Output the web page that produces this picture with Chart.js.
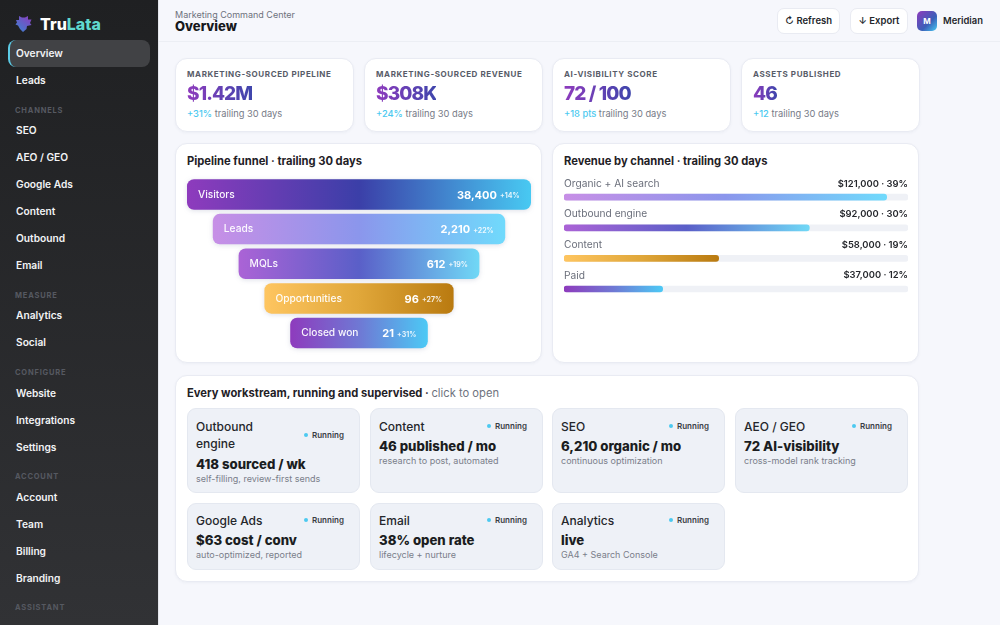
<!DOCTYPE html>
<html>
<head>
<meta charset="utf-8">
<title>Overview</title>
<script src="https://cdn.jsdelivr.net/npm/chart.js@4/dist/chart.umd.js"></script>
<style>
  * { box-sizing: border-box; margin: 0; padding: 0; }
  html, body { width: 1000px; height: 625px; overflow: hidden; background: #f6f7fc; font-family: Inter, sans-serif; color: #1d1f24; }
  .box { position: absolute; }
  .t { position: absolute; white-space: nowrap; line-height: 1; transform: translateY(calc(-50% + 0.2px)); }
  #sidebar { position: absolute; left: 0; top: 0; width: 159px; height: 625px; background: linear-gradient(#1f2022, #313235); border-right: 1px solid #e4e6ec; overflow: hidden; }
  #active { position: absolute; left: 8px; top: 40px; width: 142px; height: 27px; background: #414245; border-radius: 8px; border-left: 2px solid #5ccbe6; }
  .nav { color: #f2f3f5; font-size: 10.2px; font-weight: 600; left: 16px; }
  .sec { color: #565961; font-size: 7.5px; font-weight: 700; letter-spacing: .8px; left: 15px; }
  #head { position: absolute; left: 159px; top: 0; width: 841px; height: 42px; border-bottom: 1px solid #eceef4; }
  .btn { position: absolute; top: 8px; height: 26px; background: #fff; border: 1px solid #e9ebf2; border-radius: 7px; font-size: 9.5px; font-weight: 600; color: #24262b; line-height: 24px; text-align: center; }
  .card { position: absolute; background: #fff; border: 1px solid #e9ebf3; border-radius: 12px; box-shadow: 0 1px 3px rgba(60,70,110,.05); }
  .kl { font-size: 8px; font-weight: 700; letter-spacing: .6px; color: #585c68; }
  .kv { font-size: 19px; font-weight: 800; letter-spacing: -.9px; background: linear-gradient(90deg, #8e3bbd, #3f46ac); -webkit-background-clip: text; background-clip: text; color: transparent; padding: 2px 0; }
  .ks { font-size: 9.3px; color: #767a86; }
  .ks b { color: #4cc9f0; font-weight: 500; }
  .ct { font-size: 11.2px; font-weight: 700; color: #1f2126; }
  .tile { position: absolute; background: #eef1f7; border: 1px solid #e4e8f0; border-radius: 9px; }
  .tt { font-size: 12px; font-weight: 500; color: #24262b; }
  .tm { font-size: 13.2px; font-weight: 800; color: #1b1d21; }
  .tn { font-size: 9px; color: #7a7e8a; }
  .tr { font-size: 8px; font-weight: 600; color: #3a3d44; }
  .dot { position: absolute; width: 4px; height: 4px; border-radius: 50%; background: #4cc9f0; }
  canvas { position: absolute; }
</style>
</head>
<body>
<div id="sidebar"><div id="active"></div></div>
<div id="head"></div>
<div id="page"></div>
<canvas id="funnelChart" width="352" height="182" style="left:183px;top:173px"></canvas>
<canvas id="revenueChart" width="344" height="140" style="left:564px;top:170px"></canvas>

<script>
// Sidebar
const navLabels = ['Overview', 'Leads', 'SEO', 'AEO / GEO', 'Google Ads', 'Content', 'Outbound', 'Email', 'Analytics', 'Social', 'Website', 'Integrations', 'Settings', 'Account', 'Team', 'Billing', 'Branding'];
const navY      = [53, 80, 130, 157, 184, 211, 238, 265, 315, 342, 393, 420, 447, 497, 524, 551, 578];
const sectionLabels = ['CHANNELS', 'MEASURE', 'CONFIGURE', 'ACCOUNT', 'ASSISTANT'];
const sectionY      = [111, 296, 373, 477, 608];

// KPI cards
const kpiLabels = ['MARKETING-SOURCED PIPELINE', 'MARKETING-SOURCED REVENUE', 'AI-VISIBILITY SCORE', 'ASSETS PUBLISHED'];
const kpiValues = ['$1.42M', '$308K', '72 / 100', '46'];
const kpiDeltas = ['+31%', '+24%', '+18 pts', '+12'];
const kpiX      = [175, 364, 552, 741];

// Funnel : the bars are stepped, not proportional to the counts
const funnelStages = ['Visitors', 'Leads', 'MQLs', 'Opportunities', 'Closed won'];
const funnelRanges = [[0, 100], [7.5, 92.5], [15, 85], [22.5, 77.5], [30, 70]];
const funnelCounts = ['38,400', '2,210', '612', '96', '21'];
const funnelDeltas = ['+14%', '+22%', '+19%', '+27%', '+31%'];

// Revenue by channel
const revenueChannels = ['Organic + AI search', 'Outbound engine', 'Content', 'Paid'];
const revenueValues   = [121000, 92000, 58000, 37000];
const revenueShares   = ['39%', '30%', '19%', '12%'];
const revenueTrack    = [129000, 129000, 129000, 129000];

// Workstream tiles
const tileTitles = [['Outbound', 'engine'], ['Content'], ['SEO'], ['AEO / GEO'], ['Google Ads'], ['Email'], ['Analytics']];
const tileMetrics = ['418 sourced / wk', '46 published / mo', '6,210 organic / mo', '72 AI-visibility', '$63 cost / conv', '38% open rate', 'live'];
const tileNotes = ['self-filling, review-first sends', 'research to post, automated', 'continuous optimization', 'cross-model rank tracking', 'auto-optimized, reported', 'lifecycle + nurture', 'GA4 + Search Console'];
const tileX = [187, 370, 552, 735, 187, 370, 552];

// Gradient stops
const FULL  = ['#8e3bbd', '#3b3fa8', '#48c9f2'];
const LIGHT = ['#c78fe6', '#8b96ec', '#70dafc'];
const MID   = ['#ab63d6', '#5a5fc8', '#70d8f6'];
const GOLD  = ['#fec560', '#e0a73a', '#b97a10'];
const SHORT = ['#8e3bbd', '#6f78d4', '#4cc9f5'];

const html = (parent, markup) => parent.insertAdjacentHTML('beforeend', markup);
const side = document.getElementById('sidebar');
const page = document.getElementById('page');

navLabels.forEach((l, i) => html(side, `<div class="t nav" style="top:${navY[i]}px">${l}</div>`));
sectionLabels.forEach((l, i) => html(side, `<div class="t sec" style="top:${sectionY[i]}px">${l}</div>`));

// Logo + header
html(side, `<svg class="box" style="left:15px;top:15px" width="17" height="17" viewBox="0 0 17 17">
  <defs><linearGradient id="lg" x1="1" y1="0" x2="0.2" y2="1"><stop offset="0" stop-color="#8e3bbd"/><stop offset="1" stop-color="#3f7fd0"/></linearGradient></defs>
  <path d="M1 5 L4 5 L4 1 L7 2.5 L10 2.5 L13 1 L13 4.5 L16.5 4.5 L15 8 L16.5 10 L12 11 L11.5 14 L8 17 L5 14 L3 10.5 L0.5 9.5 L2 7.5 Z" fill="url(#lg)"/></svg>`);
html(side, `<div class="t" style="left:40px;top:24px;font-size:16px;font-weight:800;color:#fff">Tru<span style="color:#5fd9cf">Lata</span></div>`);

html(page, `<div class="t" style="left:175px;top:14px;font-size:9px;color:#6e727d">Marketing Command Center</div>
  <div class="t" style="left:175px;top:26px;font-size:13px;font-weight:800;color:#17181c">Overview</div>
  <div class="btn" style="left:777px;width:63px">↻ Refresh</div>
  <div class="btn" style="left:850px;width:58px">↓ Export</div>
  <div class="box" style="left:917px;top:11px;width:20px;height:20px;border-radius:5px;background:linear-gradient(135deg,#8e3bbd,#3b5fb8 60%,#48c9f2);color:#fff;font-size:8px;font-weight:700;text-align:center;line-height:20px">M</div>
  <div class="t" style="left:943px;top:20.5px;font-size:9.4px;font-weight:600;color:#24262b">Meridian</div>`);

kpiLabels.forEach((l, i) => {
  const x = kpiX[i];
  html(page, `<div class="card" style="left:${x}px;top:58px;width:179px;height:74px"></div>
    <div class="t kl" style="left:${x + 12}px;top:74px">${l}</div>
    <div class="t kv" style="left:${x + 12}px;top:93px">${kpiValues[i]}</div>
    <div class="t ks" style="left:${x + 12}px;top:113px"><b>${kpiDeltas[i]}</b> trailing 30 days</div>`);
});

html(page, `<div class="card" style="left:175px;top:143px;width:367px;height:220px"></div>
  <div class="t ct" style="left:187px;top:161px">Pipeline funnel · trailing 30 days</div>
  <div class="card" style="left:552px;top:143px;width:367px;height:220px"></div>
  <div class="t ct" style="left:564px;top:161px">Revenue by channel · trailing 30 days</div>
  <div class="card" style="left:175px;top:375px;width:744px;height:207px"></div>
  <div class="t ct" style="left:187px;top:393px">Every workstream, running and supervised · <span style="font-weight:400;color:#6e727d">click to open</span></div>`);

tileTitles.forEach((title, i) => {
  const x = tileX[i];
  const row2 = i > 3;
  const top = row2 ? 503 : 408;
  const base = row2 ? 520 : 426;
  const extra = title.length > 1 ? 18 : 0;   // 2-line title pushes the metric down
  html(page, `<div class="tile" style="left:${x}px;top:${top}px;width:173px;height:${row2 ? 67 : 85}px"></div>`);
  title.forEach((line, k) => html(page, `<div class="t tt" style="left:${x + 9}px;top:${base + 0.6 + k * 17.5}px">${line}</div>`));
  html(page, `<div class="dot" style="left:${x + 117}px;top:${base + extra / 2 - 2}px"></div>
    <div class="t tr" style="left:${x + 125}px;top:${base + extra / 2}px">Running</div>
    <div class="t tm" style="left:${x + 9}px;top:${base + 19.6 + extra}px">${tileMetrics[i]}</div>
    <div class="t tn" style="left:${x + 9}px;top:${base + 33.5 + extra}px">${tileNotes[i]}</div>`);
});

function barGradient(chart, stops, from, to) {
  const g = chart.ctx.createLinearGradient(from, 0, to, 0);
  g.addColorStop(0, stops[0]);
  g.addColorStop(0.5, stops[1]);
  g.addColorStop(1, stops[2]);
  return g;
}

// Funnel labels and bar shadow
const funnelOverlay = {
  id: 'funnelOverlay',
  beforeDatasetsDraw(chart) {
    const c = chart.ctx;
    c.save();
    c.shadowColor = 'rgba(70,80,130,.18)';
    c.shadowBlur = 5;
    c.shadowOffsetY = 1;
  },
  afterDatasetsDraw(chart) {
    const c = chart.ctx;
    c.restore();
    c.save();
    c.textBaseline = 'middle';
    c.fillStyle = '#fff';
    chart.getDatasetMeta(0).data.forEach((bar, i) => {
      const left = chart.scales.x.getPixelForValue(funnelRanges[i][0]);
      const right = chart.scales.x.getPixelForValue(funnelRanges[i][1]);
      c.globalAlpha = 0.95;
      c.textAlign = 'left';
      c.font = '500 10.2px Inter';
      c.fillText(funnelStages[i], left + 11, bar.y + 0.3);
      c.textAlign = 'right';
      c.font = '700 7px Inter';
      c.globalAlpha = 0.85;
      c.fillText(funnelDeltas[i], right - 11.5, bar.y + 1.5);
      const w = c.measureText(funnelDeltas[i]).width;
      c.globalAlpha = 1;
      c.font = '700 11px Inter';
      c.fillText(funnelCounts[i], right - 11.5 - w - 3, bar.y + 1);
    });
    c.restore();
  },
};

const funnelFills = [FULL, LIGHT, MID, GOLD, SHORT];
new Chart(document.getElementById('funnelChart'), {
  type: 'bar',
  data: {
    labels: funnelStages,
    datasets: [{
      data: funnelRanges,
      backgroundColor: ctx => {
        const chart = ctx.chart;
        if (!chart.chartArea) return '#8e3bbd';
        const r = funnelRanges[ctx.dataIndex];
        return barGradient(chart, funnelFills[ctx.dataIndex], chart.scales.x.getPixelForValue(r[0]), chart.scales.x.getPixelForValue(r[1]));
      },
      borderRadius: 7,
      borderSkipped: false,
      categoryPercentage: 1,
      barPercentage: 0.88,
      clip: false,
    }],
  },
  options: {
    indexAxis: 'y',
    responsive: false,
    animation: false,
    layout: { padding: { left: 4, right: 4, top: 4.1, bottom: 4.6 } },
    plugins: { legend: { display: false }, tooltip: { enabled: false } },
    scales: {
      x: { display: false, min: 0, max: 100 },
      y: { display: false },
    },
  },
  plugins: [funnelOverlay],
});

// Revenue row texts sit above each bar
const revenueOverlay = {
  id: 'revenueOverlay',
  afterDatasetsDraw(chart) {
    const c = chart.ctx;
    c.save();
    c.textBaseline = 'middle';
    chart.getDatasetMeta(1).data.forEach((bar, i) => {
      c.textAlign = 'left';
      c.fillStyle = '#6b6f7b';
      c.font = '400 10.2px Inter';
      c.fillText(revenueChannels[i], chart.chartArea.left, bar.y - 13.5);
      c.textAlign = 'right';
      c.fillStyle = '#26282d';
      c.font = '600 9.4px Inter';
      c.fillText('$' + revenueValues[i].toLocaleString('en-US') + ' · ' + revenueShares[i], chart.chartArea.right, bar.y - 13.5);
    });
    c.restore();
  },
};

const revenueFills = [LIGHT, MID, GOLD, SHORT];
new Chart(document.getElementById('revenueChart'), {
  type: 'bar',
  data: {
    labels: revenueChannels,
    datasets: [
      { data: revenueTrack, backgroundColor: '#eff1f6', order: 2, grouped: false, barThickness: 6, borderRadius: 3, borderSkipped: false },
      {
        data: revenueValues,
        backgroundColor: ctx => {
          const chart = ctx.chart;
          if (!chart.chartArea) return '#8e3bbd';
          return barGradient(chart, revenueFills[ctx.dataIndex], chart.chartArea.left, chart.scales.x.getPixelForValue(revenueValues[ctx.dataIndex]));
        },
        order: 1,
        grouped: false,
        barThickness: 6,
        borderRadius: 3,
        borderSkipped: false,
      },
    ],
  },
  options: {
    indexAxis: 'y',
    responsive: false,
    animation: false,
    layout: { padding: { left: 0, right: 0, top: 11.9, bottom: 5.7 } },
    plugins: { legend: { display: false }, tooltip: { enabled: false } },
    scales: {
      x: { display: false, min: 0, max: 129000 },
      y: { display: false },
    },
  },
  plugins: [revenueOverlay],
});
</script>
</body>
</html>
